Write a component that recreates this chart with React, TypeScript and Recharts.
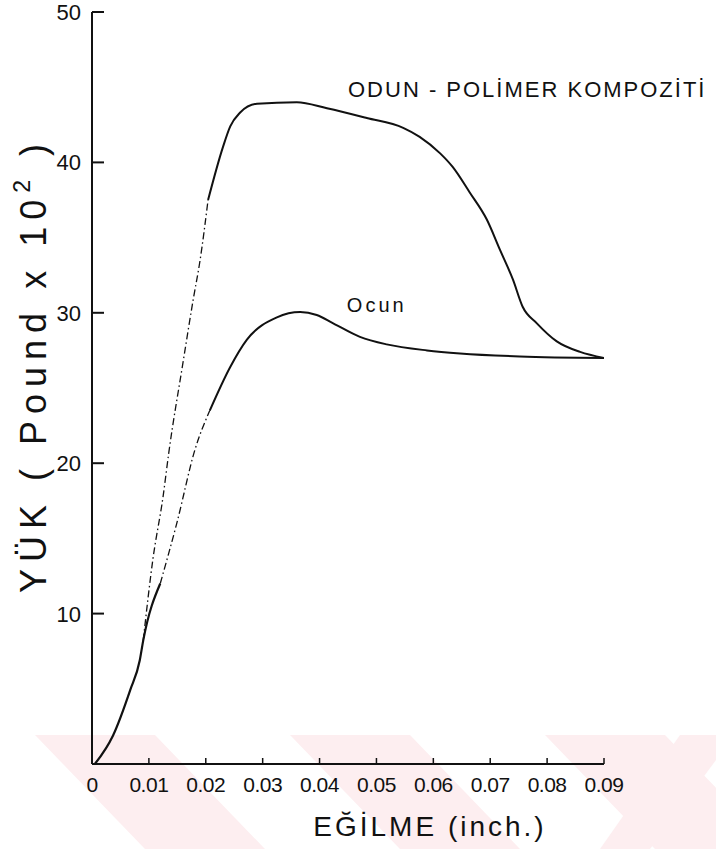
import React from 'react';
import { LineChart, Line, XAxis, YAxis, ReferenceDot } from 'recharts';

// Deflection (inch) and load (pound x 10^2)
const odunLowX = [0.0005, 0.0037, 0.0067, 0.0084, 0.009, 0.012];
const odunLowY = [0, 1.9, 4.9, 6.9, 8.2, 12.0];
const odunDashX = [0.012, 0.0149, 0.0181, 0.0207];
const odunDashY = [12.0, 16.0, 20.9, 23.5];
const odunHighX = [0.0207, 0.0243, 0.0272, 0.0325, 0.0366, 0.0395, 0.0424, 0.0471, 0.0518, 0.0589, 0.0647, 0.0752, 0.09];
const odunHighY = [23.5, 26.4, 28.2, 29.7, 30.05, 29.85, 29.3, 28.4, 27.9, 27.5, 27.3, 27.1, 27.0];

const kompDashX = [0.009, 0.0107, 0.0125, 0.0135, 0.016, 0.0178, 0.019, 0.0204];
const kompDashY = [8.2, 13.6, 17.8, 20.7, 26.7, 30.9, 33.5, 37.5];
const kompHighX = [0.0204, 0.023, 0.0243, 0.026, 0.029, 0.036, 0.0413, 0.0483, 0.0547, 0.0576, 0.0612, 0.0634, 0.0664, 0.0694, 0.0717, 0.074, 0.0757, 0.0782, 0.0817, 0.0858, 0.09];
const kompHighY = [37.5, 41.0, 42.4, 43.3, 43.9, 44.0, 43.6, 42.95, 42.3, 41.7, 40.6, 39.7, 38.0, 36.2, 34.2, 32.2, 30.4, 29.3, 28.1, 27.4, 27.0];

const xTicks = [0, 0.01, 0.02, 0.03, 0.04, 0.05, 0.06, 0.07, 0.08, 0.09];
const xTickLabels = ['0', '0.01', '0.02', '0.03', '0.04', '0.05', '0.06', '0.07', '0.08', '0.09'];
const yTicks = [10, 20, 30, 40, 50];
const yTickLabels = ['10', '20', '30', '40', '50'];

const kompLabel = 'ODUN - POLİMER  KOMPOZİTİ';
const kompLabelPos = { x: 0.045, y: 44.35 };
const odunLabel = 'Ocun';
const odunLabelPos = { x: 0.0448, y: 30.05 };

const build = (xs: number[], ys: number[]) => xs.map((x, i) => ({ x, y: ys[i] }));

const FONT = '"Liberation Sans", Arial, sans-serif';
const PLOT_LEFT = 92;
const PLOT_BOTTOM = 764;

const YTick = (props: any) => {
  const { y, index } = props;
  return (
    <g>
      <text x={PLOT_LEFT - 11} y={y} dy={8} textAnchor="end" fontSize={22} fontFamily={FONT} fill="#111">
        {yTickLabels[index]}
      </text>
      <line x1={PLOT_LEFT} x2={PLOT_LEFT + 12} y1={y} y2={y} stroke="#111" strokeWidth={2} />
    </g>
  );
};

const XTick = (props: any) => {
  const { x, index } = props;
  return (
    <g>
      {index > 0 && <line x1={x} x2={x} y1={PLOT_BOTTOM} y2={PLOT_BOTTOM - 6} stroke="#111" strokeWidth={1.5} />}
      <text x={x} y={PLOT_BOTTOM + 28} textAnchor="middle" fontSize={21} fontFamily={FONT} fill="#111" letterSpacing={-0.5}>
        {xTickLabels[index]}
      </text>
    </g>
  );
};

const YTitle = () => (
  <text transform="translate(46,365) rotate(-90)" textAnchor="middle" fontSize={36} fontFamily={FONT} fill="#111" letterSpacing={7}>
    YÜK ( Pound x 10
    <tspan dy={-16} fontSize={23}>2</tspan>
    <tspan dy={16}> )</tspan>
  </text>
);

const XTitle = () => (
  <text x={430} y={836} textAnchor="middle" fontSize={28} fontFamily={FONT} fill="#111" letterSpacing={3}>
    EĞİLME (inch.)
  </text>
);

const makeLabel = (text: string, size: number, spacing: number) => (props: any) => {
  const vb = props.viewBox || {};
  return (
    <text x={(vb.x ?? 0) + 1} y={(vb.y ?? 0) + 1} fontSize={size} fontFamily={FONT} fill="#111" letterSpacing={spacing}>
      {text}
    </text>
  );
};

const Watermark = () => {
  const bands = [0, 1, 2, 3];
  return (
    <svg width={716} height={849} style={{ position: 'absolute', left: 0, top: 0 }}>
      {bands.map((i) => {
        const x0 = 35 + i * 255;
        return (
          <polygon
            key={i}
            points={`${x0},735 ${x0 + 120},735 ${x0 + 230},849 ${x0 + 110},849`}
            fill="#fdeef0"
          />
        );
      })}
      <polygon points="680,735 716,735 716,760 650,849 600,849" fill="#fdeef0" />
    </svg>
  );
};

export default function App() {
  const lineProps = { type: 'monotone' as const, dataKey: 'y', dot: false, isAnimationActive: false, stroke: '#111' };
  return (
    <div style={{ position: 'absolute', left: 0, top: 0, width: 716, height: 849, background: '#fff' }}>
      <Watermark />
      <div style={{ position: 'absolute', left: 0, top: 0 }}>
        <LineChart width={716} height={849} margin={{ top: 12, right: 112, left: 0, bottom: 0 }}>
          <XAxis
            type="number"
            dataKey="x"
            domain={[0, 0.09]}
            ticks={xTicks}
            tick={<XTick />}
            tickSize={0}
            tickMargin={4}
            height={85}
            axisLine={{ stroke: '#111', strokeWidth: 2 }}
            tickLine={false}
            interval={0}
            allowDataOverflow
            label={<XTitle />}
          />
          <YAxis
            type="number"
            domain={[0, 50]}
            ticks={yTicks}
            tick={<YTick />}
            tickSize={0}
            tickMargin={10}
            width={92}
            axisLine={{ stroke: '#111', strokeWidth: 2 }}
            tickLine={false}
            interval={0}
            allowDataOverflow
            label={<YTitle />}
          />
          <Line {...lineProps} data={build(odunLowX, odunLowY)} strokeWidth={2.2} />
          <Line {...lineProps} data={build(odunDashX, odunDashY)} strokeWidth={1.3} strokeDasharray="7 3 1.5 3" />
          <Line {...lineProps} data={build(odunHighX, odunHighY)} strokeWidth={2} />
          <Line {...lineProps} data={build(kompDashX, kompDashY)} strokeWidth={1.3} strokeDasharray="7 3 1.5 3" />
          <Line {...lineProps} data={build(kompHighX, kompHighY)} strokeWidth={2} />
          <ReferenceDot x={kompLabelPos.x} y={kompLabelPos.y} r={1} fill="none" stroke="none" label={makeLabel(kompLabel, 22, 2)} />
          <ReferenceDot x={odunLabelPos.x} y={odunLabelPos.y} r={1} fill="none" stroke="none" label={makeLabel(odunLabel, 20, 3)} />
        </LineChart>
      </div>
    </div>
  );
}
